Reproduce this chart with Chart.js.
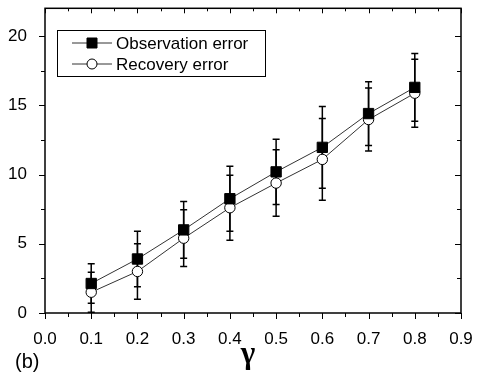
<!DOCTYPE html>
<html>
<head>
<meta charset="utf-8">
<script src="https://cdn.jsdelivr.net/npm/chart.js@4.4.0/dist/chart.umd.min.js"></script>
<style>
  html, body { margin: 0; padding: 0; background: #fff; }
  #wrap { width: 477px; height: 385px; }
</style>
</head>
<body>
<div id="wrap"><canvas id="chart"></canvas></div>
<script>
const gamma = [0.1, 0.2, 0.3, 0.4, 0.5, 0.6, 0.7, 0.8];
const observationError = [2.13, 3.9, 6.0, 8.25, 10.19, 11.96, 14.4, 16.29];
const observationSpread = [1.43, 2.0, 2.05, 2.35, 2.35, 2.95, 2.3, 2.45];
const recoveryError = [1.5, 3.0, 5.4, 7.6, 9.38, 11.09, 13.97, 15.87];
const recoverySpread = [1.45, 2.0, 2.05, 2.35, 2.4, 2.95, 2.27, 2.45];
const xTicks = [0, 0.1, 0.2, 0.3, 0.4, 0.5, 0.6, 0.7, 0.8, 0.9];
const yTicks = [0, 5, 10, 15, 20];

const FONT = 'Liberation Sans, Arial, sans-serif';
Chart.defaults.font.family = FONT;
Chart.defaults.color = '#000';

// vertical error bars with caps, drawn under the markers
const errorBars = {
  id: 'errorBars',
  beforeDatasetsDraw(chart) {
    const ctx = chart.ctx;
    const x = chart.scales.x, y = chart.scales.y;
    const spreads = [observationSpread, recoverySpread];
    ctx.save();
    ctx.strokeStyle = '#000';
    ctx.lineWidth = 1.5;
    chart.data.datasets.forEach((ds, d) => {
      ds.data.forEach((p, i) => {
        const px = x.getPixelForValue(p.x);
        const top = y.getPixelForValue(p.y + spreads[d][i]);
        const bot = y.getPixelForValue(p.y - spreads[d][i]);
        ctx.beginPath();
        ctx.moveTo(px, top); ctx.lineTo(px, bot);
        ctx.moveTo(px - 3.5, top); ctx.lineTo(px + 3.5, top);
        ctx.moveTo(px - 3.5, bot); ctx.lineTo(px + 3.5, bot);
        ctx.stroke();
      });
    });
    ctx.restore();
  }
};

// frame, Origin style ticks, legend box, axis symbol and panel label
const frame = {
  id: 'frame',
  afterDraw(chart) {
    const ctx = chart.ctx;
    const a = chart.chartArea;
    const x = chart.scales.x, y = chart.scales.y;
    ctx.save();
    ctx.strokeStyle = '#000';
    ctx.lineWidth = 1.5;
    ctx.strokeRect(a.left, a.top, a.right - a.left, a.bottom - a.top);

    ctx.lineWidth = 1;
    ctx.beginPath();
    for (let v = 0; v <= 0.9001; v += 0.05) {
      const px = Math.round(x.getPixelForValue(v)) + 0.5;
      const major = Math.abs(v * 10 - Math.round(v * 10)) < 0.01;
      ctx.moveTo(px, a.bottom); ctx.lineTo(px, a.bottom + (major ? 6 : 4));
      ctx.moveTo(px, a.top); ctx.lineTo(px, a.top + (major ? 5 : 3));
    }
    for (let v = 0; v <= 22; v += 2.5) {
      const py = Math.round(y.getPixelForValue(v)) + 0.5;
      const major = v % 5 === 0;
      ctx.moveTo(a.left, py); ctx.lineTo(a.left - (major ? 6 : 4), py);
      ctx.moveTo(a.right, py); ctx.lineTo(a.right - (major ? 6 : 4), py);
    }
    ctx.stroke();

    // legend
    ctx.strokeRect(57.5, 30.5, 208, 46);
    const rows = [43, 64];
    chart.data.datasets.forEach((ds, d) => {
      const ry = rows[d];
      ctx.strokeStyle = '#333';
      ctx.lineWidth = 1;
      ctx.beginPath();
      ctx.moveTo(72, ry); ctx.lineTo(112, ry);
      ctx.stroke();
      ctx.strokeStyle = '#000';
      ctx.fillStyle = d === 0 ? '#000' : '#fff';
      ctx.beginPath();
      if (d === 0) ctx.rect(87, ry - 5, 10, 10);
      else ctx.arc(92, ry, 5, 0, Math.PI * 2);
      ctx.fill(); ctx.stroke();
      ctx.fillStyle = '#000';
      ctx.font = '17px ' + FONT;
      ctx.textBaseline = 'middle';
      ctx.textAlign = 'left';
      ctx.fillText(ds.label, 116, ry + 1);
    });

    ctx.textBaseline = 'alphabetic';
    ctx.font = '20px ' + FONT;
    ctx.fillText('(b)', 15, 368);
    ctx.font = 'bold 31px Liberation Serif, Times New Roman, serif';
    ctx.textAlign = 'center';
    ctx.fillText('γ', 248, 363);
    ctx.restore();
  }
};

new Chart(document.getElementById('chart'), {
  type: 'line',
  data: {
    datasets: [
      {
        label: 'Observation error',
        data: gamma.map((g, i) => ({ x: g, y: observationError[i] })),
        borderColor: '#333',
        borderWidth: 1,
        pointStyle: 'rect',
        pointRadius: 7.3,
        pointBackgroundColor: '#000',
        pointBorderColor: '#000',
        pointBorderWidth: 1
      },
      {
        label: 'Recovery error',
        data: gamma.map((g, i) => ({ x: g, y: recoveryError[i] })),
        borderColor: '#333',
        borderWidth: 1,
        pointStyle: 'circle',
        pointRadius: 5.2,
        pointBackgroundColor: '#fff',
        pointBorderColor: '#000',
        pointBorderWidth: 1
      }
    ]
  },
  options: {
    responsive: true,
    maintainAspectRatio: false,
    animation: false,
    devicePixelRatio: 1,
    layout: { padding: { left: 0, top: 3, right: 16, bottom: 0 } },
    plugins: { legend: { display: false }, tooltip: { enabled: false } },
    scales: {
      x: {
        type: 'linear',
        min: 0,
        max: 0.9,
        afterBuildTicks: s => { s.ticks = xTicks.map(v => ({ value: v })); },
        afterFit: s => { s.height = 72; s.paddingLeft = 0; s.paddingRight = 0; },
        ticks: { callback: v => v.toFixed(1), font: { size: 17 }, padding: 8, maxRotation: 0, autoSkip: false },
        grid: { display: false },
        border: { display: false }
      },
      y: {
        min: 0,
        max: 22,
        afterBuildTicks: s => { s.ticks = yTicks.map(v => ({ value: v })); },
        afterFit: s => { s.width = 45; s.paddingTop = 0; s.paddingBottom = 0; },
        ticks: { font: { size: 17 }, padding: 10 },
        grid: { display: false },
        border: { display: false }
      }
    }
  },
  plugins: [errorBars, frame]
});
</script>
</body>
</html>
